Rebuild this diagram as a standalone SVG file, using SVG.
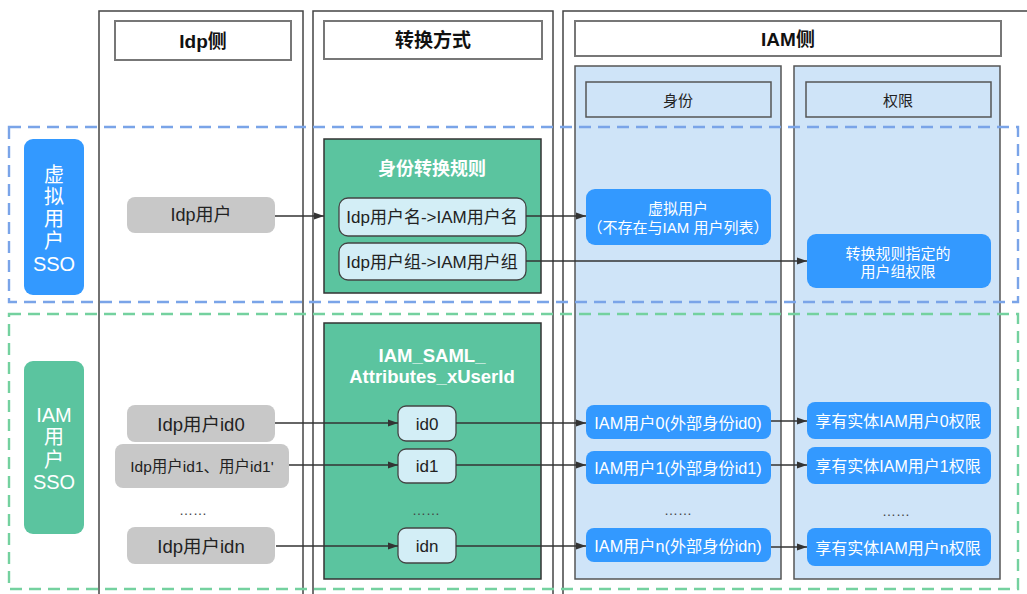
<svg xmlns="http://www.w3.org/2000/svg" width="1027" height="594" viewBox="0 0 1027 594">
<defs>
<marker id="arr" markerWidth="10" markerHeight="8" refX="10" refY="4" orient="auto" markerUnits="userSpaceOnUse">
<path d="M0,0.5 L10,4 L0,7.5 Z" fill="#333"/>
</marker>
<style>
text{font-family:"Liberation Sans","Noto Sans CJK SC",sans-serif;text-anchor:middle;dominant-baseline:central}
.col{fill:#fff;stroke:#444;stroke-width:1.5}
.hdr{fill:#fff;stroke:#777;stroke-width:2}
.sub{fill:#cfe4f8;stroke:#555;stroke-width:1.5}
.subh{fill:none;stroke:#555;stroke-width:1.5}
.ht{font-size:19px;font-weight:bold;fill:#111}
.st{font-size:15px;fill:#222}
.blue{fill:#3399ff}
.green{fill:#5bc49f}
.gbox{fill:#5bc49f;stroke:#333;stroke-width:1.5}
.gray{fill:#c8c8c8}
.cy{fill:#d3eef6;stroke:#444;stroke-width:1.3}
.dots{font-size:14px;fill:#444}
.conn path{fill:none;stroke:#333;stroke-width:1.3;marker-end:url(#arr)}
</style>
</defs>
<rect width="1027" height="594" fill="#fff"/>

<g id="col-idp">
<rect class="col" x="99" y="11" width="204" height="600"/>
<rect class="hdr" x="115" y="21" width="176" height="39"/>
<text class="ht" x="203" y="41">Idp侧</text>
</g>
<g id="col-conv">
<rect class="col" x="313" y="11" width="240" height="600"/>
<rect class="hdr" x="324" y="21" width="218" height="38"/>
<text class="ht" x="433" y="40">转换方式</text>
</g>
<g id="col-iam">
<rect class="col" x="563" y="11" width="480" height="600"/>
<rect class="hdr" x="575" y="21" width="426" height="35"/>
<text class="ht" x="788" y="39">IAM侧</text>
</g>
<g id="col-identity">
<rect class="sub" x="575" y="66" width="206" height="513"/>
<rect class="subh" x="586" y="82" width="185" height="35"/>
<text class="st" x="678" y="100">身份</text>
</g>
<g id="col-perm">
<rect class="sub" x="794" y="66" width="206" height="513"/>
<rect class="subh" x="806" y="82" width="185" height="35"/>
<text class="st" x="898" y="100">权限</text>
</g>

<g id="region-virtual">
<rect x="9" y="127" width="1009" height="175" fill="none" stroke="#7aa4e8" stroke-width="2.4" stroke-dasharray="12 7"/>
</g>
<g id="region-iam">
<rect x="9" y="314" width="1009" height="275" fill="none" stroke="#74d19f" stroke-width="2.4" stroke-dasharray="12 7"/>
</g>

<g id="label-virtual">
<rect class="blue" x="24" y="139" width="60" height="156" rx="9"/>
<g style="font-size:20px">
<text x="54" y="175" fill="#fff">虚</text>
<text x="54" y="197" fill="#fff">拟</text>
<text x="54" y="219" fill="#fff">用</text>
<text x="54" y="241" fill="#fff">户</text>
<text x="54" y="264" fill="#fff">SSO</text>
</g>
</g>
<g id="label-iam">
<rect class="green" x="24" y="361" width="60" height="173" rx="9"/>
<g style="font-size:20px">
<text x="54" y="415" fill="#fff">IAM</text>
<text x="54" y="437" fill="#fff">用</text>
<text x="54" y="460" fill="#fff">户</text>
<text x="54" y="482" fill="#fff">SSO</text>
</g>
</g>

<g id="idp-user">
<rect class="gray" x="127" y="197" width="148" height="36" rx="8"/>
<text x="201" y="215" style="font-size:18px" fill="#222">Idp用户</text>
</g>
<g id="rule-box">
<rect class="gbox" x="324" y="139" width="217" height="154"/>
<text x="432" y="169" style="font-size:18px;font-weight:bold" fill="#fff">身份转换规则</text>
</g>
<g id="rule-name">
<rect class="cy" x="339" y="198" width="187" height="38" rx="9"/>
<text x="432" y="217" style="font-size:17px" fill="#222">Idp用户名-&gt;IAM用户名</text>
</g>
<g id="rule-group">
<rect class="cy" x="339" y="243" width="187" height="37" rx="9"/>
<text x="432" y="262" style="font-size:17px" fill="#222">Idp用户组-&gt;IAM用户组</text>
</g>
<g id="virtual-user">
<rect class="blue" x="586" y="189" width="185" height="56" rx="9"/>
<text x="678" y="208" style="font-size:15px" fill="#fff">虚拟用户</text>
<text x="678" y="227" style="font-size:15px" fill="#fff">（不存在与IAM 用户列表）</text>
</g>
<g id="group-perm">
<rect class="blue" x="807" y="234" width="184" height="54" rx="9"/>
<text x="898" y="253" style="font-size:15px" fill="#fff">转换规则指定的</text>
<text x="898" y="271" style="font-size:15px" fill="#fff">用户组权限</text>
</g>

<g id="saml-box">
<rect class="gbox" x="324" y="323" width="217" height="256"/>
<text x="432" y="355" style="font-size:18.5px;font-weight:bold" fill="#fff">IAM_SAML_</text>
<text x="432" y="376" style="font-size:18.5px;font-weight:bold" fill="#fff">Attributes_xUserId</text>
</g>
<g id="idp-id0">
<rect class="gray" x="127" y="405" width="148" height="37" rx="8"/>
<text x="201" y="424" style="font-size:18.5px" fill="#222">Idp用户id0</text>
</g>
<g id="idp-id1">
<rect class="gray" x="115" y="444" width="174" height="44" rx="8"/>
<text x="202" y="466" style="font-size:15.5px" fill="#222">Idp用户id1、用户id1'</text>
</g>
<text class="dots" x="193" y="510">……</text>
<g id="idp-idn">
<rect class="gray" x="127" y="527" width="148" height="37" rx="8"/>
<text x="201" y="546" style="font-size:18.5px" fill="#222">Idp用户idn</text>
</g>
<g id="id0">
<rect class="cy" x="398" y="406" width="58" height="35" rx="8"/>
<text x="427" y="424" style="font-size:17px" fill="#222">id0</text>
</g>
<g id="id1">
<rect class="cy" x="398" y="449" width="58" height="34" rx="8"/>
<text x="427" y="466" style="font-size:17px" fill="#222">id1</text>
</g>
<text class="dots" x="426" y="510">……</text>
<g id="idn">
<rect class="cy" x="398" y="528" width="58" height="35" rx="8"/>
<text x="427" y="546" style="font-size:17px" fill="#222">idn</text>
</g>
<g id="iam-user0">
<rect class="blue" x="586" y="405" width="185" height="34" rx="8"/>
<text x="678" y="423" style="font-size:16.2px" fill="#fff">IAM用户0(外部身份id0)</text>
</g>
<g id="iam-user1">
<rect class="blue" x="586" y="451" width="185" height="33" rx="8"/>
<text x="678" y="468" style="font-size:16.2px" fill="#fff">IAM用户1(外部身份id1)</text>
</g>
<text class="dots" x="678" y="510">……</text>
<g id="iam-usern">
<rect class="blue" x="586" y="528" width="185" height="34" rx="8"/>
<text x="678" y="546" style="font-size:16.2px" fill="#fff">IAM用户n(外部身份idn)</text>
</g>
<g id="perm0">
<rect class="blue" x="807" y="402" width="184" height="37" rx="8"/>
<text x="898" y="421" style="font-size:16px" fill="#fff">享有实体IAM用户0权限</text>
</g>
<g id="perm1">
<rect class="blue" x="807" y="447" width="184" height="37" rx="8"/>
<text x="898" y="466" style="font-size:16px" fill="#fff">享有实体IAM用户1权限</text>
</g>
<text class="dots" x="896" y="511">……</text>
<g id="permn">
<rect class="blue" x="807" y="528" width="184" height="38" rx="8"/>
<text x="898" y="548" style="font-size:16px" fill="#fff">享有实体IAM用户n权限</text>
</g>

<g id="connectors" class="conn">
<path d="M275,216 H324"/>
<path d="M526,216 H586"/>
<path d="M526,261 H807"/>
<path d="M275,423 H398"/>
<path d="M289,465 H398"/>
<path d="M276,546 H398"/>
<path d="M456,423 H586"/>
<path d="M456,465 H586"/>
<path d="M456,546 H586"/>
<path d="M771,421 H807"/>
<path d="M771,465 H807"/>
<path d="M771,547 H807"/>
</g>
</svg>
